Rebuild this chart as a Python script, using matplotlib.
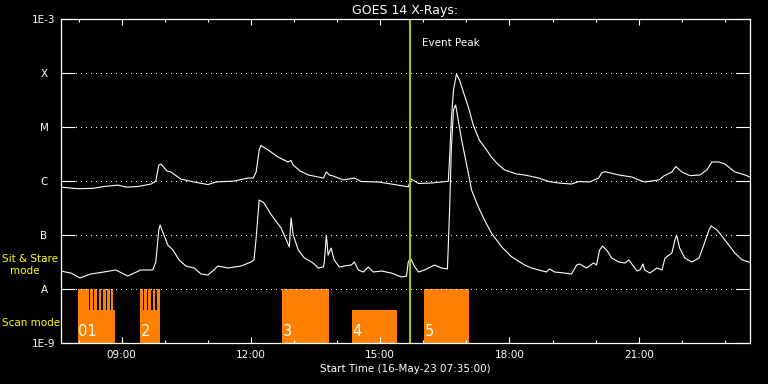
import matplotlib
matplotlib.use("Agg")
import matplotlib.pyplot as plt
from matplotlib.ticker import NullLocator

# time axis in decimal hours (UT), 16-May-23
t_start = 7.583
t_end = 23.583
event_time = 15.70

# long channel (1-8 A), W/m^2
t_long = [7.58, 7.98, 8.33, 8.58, 8.91, 9.10, 9.37, 9.68, 9.79, 9.86,
          9.91, 10.05, 10.14, 10.37, 10.68, 11.00, 11.19, 11.61, 11.93, 12.05,
          12.12, 12.19, 12.23, 12.40, 12.63, 12.86, 12.93, 12.98, 13.14, 13.33,
          13.68, 13.75, 13.82, 13.91, 14.14, 14.40, 14.56, 14.96, 15.26, 15.65,
          15.72, 15.89, 16.19, 16.58, 16.61, 16.65, 16.70, 16.77, 16.84, 16.93,
          17.05, 17.16, 17.30, 17.47, 17.58, 17.75, 17.89, 18.17, 18.35, 18.68,
          18.91, 19.14, 19.44, 19.61, 19.86, 20.07, 20.14, 20.21, 20.54, 20.84,
          21.00, 21.14, 21.47, 21.58, 21.77, 21.86, 22.00, 22.19, 22.42, 22.58,
          22.70, 22.86, 23.00, 23.23, 23.47, 23.63]
flux_long = [7.8e-7, 7.3e-7, 7.4e-7, 8.0e-7, 8.5e-7, 7.8e-7, 8.0e-7, 8.9e-7, 1.01e-6, 2.0e-6,
             2.09e-6, 1.55e-6, 1.49e-6, 1.10e-6, 9.7e-7, 8.7e-7, 9.7e-7, 1.01e-6, 1.15e-6, 1.15e-6,
             1.49e-6, 3.8e-6, 4.6e-6, 3.8e-6, 2.8e-6, 2.28e-6, 2.43e-6, 2.0e-6, 1.55e-6, 1.31e-6,
             1.15e-6, 1.49e-6, 1.31e-6, 1.25e-6, 1.06e-6, 1.15e-6, 9.9e-7, 9.7e-7, 8.9e-7, 7.9e-7,
             1.10e-6, 9.1e-7, 9.3e-7, 1.0e-6, 2.7e-6, 1.36e-5, 4.9e-5, 9.7e-5, 7.5e-5, 4.5e-5,
             2.3e-5, 1.10e-5, 5.8e-6, 3.8e-6, 2.8e-6, 2.0e-6, 1.62e-6, 1.36e-6, 1.31e-6, 1.15e-6,
             9.9e-7, 9.3e-7, 8.9e-7, 9.9e-7, 9.7e-7, 1.15e-6, 1.43e-6, 1.51e-6, 1.31e-6, 1.20e-6,
             1.06e-6, 9.7e-7, 1.06e-6, 1.25e-6, 1.49e-6, 1.88e-6, 1.49e-6, 1.27e-6, 1.31e-6, 1.62e-6,
             2.28e-6, 2.28e-6, 2.09e-6, 1.49e-6, 1.31e-6, 1.15e-6]

# short channel (0.5-4 A), W/m^2
t_short = [7.58, 7.82, 8.03, 8.28, 8.58, 8.86, 9.14, 9.44, 9.72, 9.79,
           9.86, 9.89, 9.98, 10.07, 10.19, 10.33, 10.49, 10.68, 10.84, 11.00,
           11.14, 11.23, 11.47, 11.77, 12.00, 12.07, 12.12, 12.19, 12.30, 12.47,
           12.70, 12.89, 12.93, 12.98, 13.10, 13.24, 13.44, 13.56, 13.68, 13.70,
           13.75, 13.79, 13.86, 13.93, 14.05, 14.17, 14.33, 14.40, 14.49, 14.61,
           14.72, 14.84, 15.03, 15.26, 15.49, 15.61, 15.65, 15.70, 15.79, 15.89,
           16.03, 16.26, 16.42, 16.56, 16.61, 16.65, 16.70, 16.75, 16.79, 16.89,
           17.03, 17.12, 17.28, 17.42, 17.58, 17.82, 18.05, 18.35, 18.51, 18.68,
           18.86, 18.93, 19.05, 19.28, 19.44, 19.56, 19.63, 19.79, 19.95, 20.02,
           20.09, 20.16, 20.26, 20.37, 20.54, 20.68, 20.77, 20.84, 20.96, 21.03,
           21.10, 21.14, 21.26, 21.42, 21.54, 21.61, 21.77, 21.84, 21.88, 21.95,
           22.07, 22.23, 22.40, 22.51, 22.63, 22.68, 22.82, 23.00, 23.23, 23.40,
           23.56, 23.63]
flux_short = [2.18e-8, 2.0e-8, 1.62e-8, 1.92e-8, 2.09e-8, 2.28e-8, 1.76e-8, 2.28e-8, 2.28e-8, 3.2e-8,
              1.25e-7, 1.55e-7, 1.01e-7, 6.6e-8, 5.3e-8, 3.5e-8, 2.7e-8, 2.48e-8, 1.92e-8, 1.84e-8,
              2.28e-8, 2.7e-8, 2.48e-8, 2.7e-8, 3.2e-8, 3.5e-8, 8.9e-8, 4.5e-7, 4.0e-7, 2.4e-7,
              1.36e-7, 6.1e-8, 2.1e-7, 1.01e-7, 5.3e-8, 3.8e-8, 3.07e-8, 2.48e-8, 2.59e-8, 3.07e-8,
              1.01e-7, 4.3e-8, 5.8e-8, 3.5e-8, 2.59e-8, 2.7e-8, 2.82e-8, 3.2e-8, 2.28e-8, 2.09e-8,
              2.59e-8, 2.09e-8, 2.18e-8, 2.0e-8, 1.69e-8, 1.76e-8, 3.2e-8, 3.8e-8, 2.7e-8, 2.09e-8,
              2.28e-8, 2.82e-8, 2.48e-8, 2.38e-8, 2.9e-7, 3.8e-6, 2.1e-5, 2.6e-5, 1.69e-5, 5.8e-6,
              1.62e-6, 6.9e-7, 3.3e-7, 1.92e-7, 1.10e-7, 6.1e-8, 4.0e-8, 2.82e-8, 2.48e-8, 2.28e-8,
              2.09e-8, 2.38e-8, 2.09e-8, 2.0e-8, 1.92e-8, 2.82e-8, 2.94e-8, 2.48e-8, 3.07e-8, 2.82e-8,
              5.3e-8, 6.3e-8, 5.3e-8, 3.8e-8, 3.2e-8, 3.07e-8, 3.5e-8, 2.94e-8, 2.18e-8, 2.28e-8,
              2.94e-8, 2.28e-8, 2.0e-8, 2.48e-8, 2.28e-8, 3.8e-8, 4.7e-8, 8.2e-8, 1.01e-7, 5.8e-8,
              3.8e-8, 3.2e-8, 3.8e-8, 6.6e-8, 1.25e-7, 1.49e-7, 1.25e-7, 8.2e-8, 4.7e-8, 3.5e-8,
              3.2e-8, 2.94e-8]

# scan mode intervals (hours) and top level of the block
scan_start = [7.985, 7.985, 8.270, 8.363, 8.466, 8.559, 8.658, 8.751,
              9.425, 9.425, 9.518, 9.617, 9.720, 9.812,
              12.722, 14.348, 16.020]
scan_end = [8.844, 8.240, 8.333, 8.433, 8.526, 8.628, 8.721, 8.805,
            9.889, 9.494, 9.587, 9.687, 9.780, 9.889,
            13.814, 15.393, 17.065]
scan_top = [4.1e-9, 1e-8, 1e-8, 1e-8, 1e-8, 1e-8, 1e-8, 1e-8,
            4.1e-9, 1e-8, 1e-8, 1e-8, 1e-8, 1e-8,
            1e-8, 4.1e-9, 1e-8]
scan_labels = ['01', '2', '3', '4', '5']
scan_label_t = [7.985, 9.425, 12.722, 14.348, 16.020]

levels = [1e-9, 1e-8, 1e-7, 1e-6, 1e-5, 1e-4, 1e-3]
level_names = ['1E-9', 'A', 'B', 'C', 'M', 'X', '1E-3']
hour_ticks = [9, 12, 15, 18, 21]
hour_labels = ['09:00', '12:00', '15:00', '18:00', '21:00']

orange = '#ff8000'
green = '#99cc00'
yellow = '#ffff00'
fs = 7.5

fig = plt.figure(figsize=(7.68, 3.84), dpi=100, facecolor='black')
ax = fig.add_axes([60.7 / 768, (384 - 343.3) / 384, (750 - 60.7) / 768, 324 / 384])
ax.set_facecolor('black')
ax.set_yscale('log')
ax.set_ylim(1e-9, 1e-3)
ax.set_xlim(t_start, t_end)

# scan mode blocks
for s, e, top in zip(scan_start, scan_end, scan_top):
    ax.bar(s, top - 1e-9, width=e - s, bottom=1e-9, align='edge',
           color=orange, linewidth=0, zorder=1)
for lab, t in zip(scan_labels, scan_label_t):
    ax.text(t + 0.01, 0.012, lab, color='white', fontsize=10.5,
            transform=ax.get_xaxis_transform(), ha='left', va='bottom', zorder=4)

# dotted flare class lines
for v in levels[1:-1]:
    ax.axhline(v, color='white', lw=0.72, ls=(0, (1, 5)), antialiased=False, zorder=2)

ax.plot(t_long, flux_long, color='white', lw=0.8, zorder=3)
ax.plot(t_short, flux_short, color='white', lw=0.8, zorder=3)

ax.axvline(event_time, color=green, lw=1.5, zorder=5)
ax.annotate('Event Peak', xy=(event_time, 0.927), xycoords=ax.get_xaxis_transform(),
            xytext=(8, 0), textcoords='offset points', color='white',
            fontsize=fs, ha='left', va='center')

# axes styling
for sp in ax.spines.values():
    sp.set_color('white')
    sp.set_linewidth(0.9)
    sp.set_zorder(6)

ax.set_yticks(levels)
ax.set_yticklabels(level_names)
ax.yaxis.set_minor_locator(NullLocator())
ax.tick_params(axis='y', which='major', direction='in', length=10, width=0.8,
               colors='white', left=True, right=True, pad=12, labelsize=fs)
for lbl in ax.get_yticklabels():
    lbl.set_horizontalalignment('center')

ax.set_xticks(hour_ticks)
ax.set_xticklabels(hour_labels)
ax.set_xticks(range(8, 24), minor=True)
ax.tick_params(axis='x', which='major', direction='in', length=4.5, width=0.8,
               colors='white', top=True, bottom=True, pad=5, labelsize=fs)
ax.tick_params(axis='x', which='minor', direction='in', length=2.2, width=0.8,
               colors='white', top=True, bottom=True)

ax.set_xlabel('Start Time (16-May-23 07:35:00)', color='white', fontsize=fs, labelpad=3)
ax.set_title('GOES 14 X-Rays:', color='white', fontsize=9, pad=4)

# mode labels on the left
fig.text(2 / 768, 1 - 258.5 / 384, 'Sit & Stare', color=yellow, fontsize=fs, va='center', ha='left')
fig.text(24.5 / 768, 1 - 271 / 384, 'mode', color=yellow, fontsize=fs, va='center', ha='center')
fig.text(2 / 768, 1 - 323.5 / 384, 'Scan mode', color=yellow, fontsize=fs, va='center', ha='left')

fig.savefig('out.png', dpi=100, facecolor='black')
